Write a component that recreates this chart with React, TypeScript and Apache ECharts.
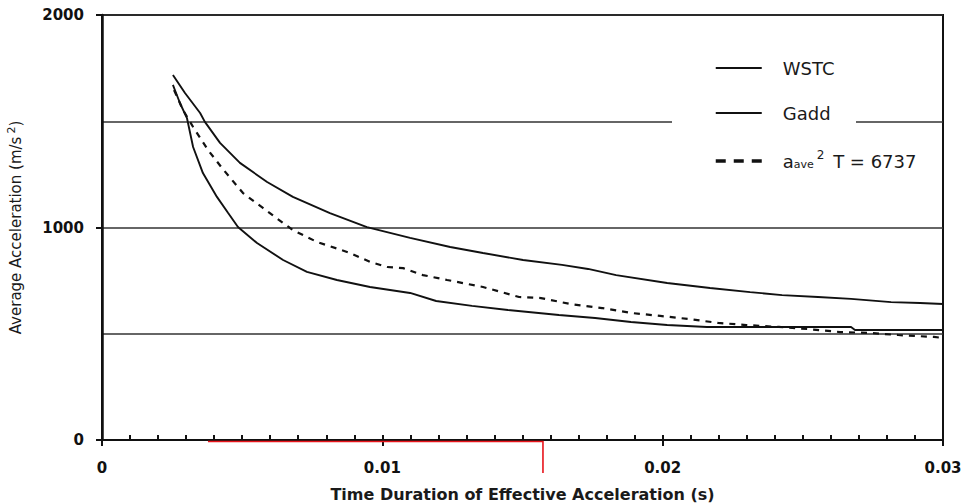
import React, { useEffect, useRef } from "react";
import * as echarts from "echarts";

const xTicks = [0, 0.01, 0.02, 0.03];
const yTicks = [0, 1000, 2000];

const wstcT = [0.00253, 0.00296, 0.0035, 0.00367, 0.00421, 0.00492, 0.00589, 0.00681, 0.00813, 0.00945, 0.01099, 0.01242, 0.01359, 0.01502, 0.01641, 0.01734, 0.01834, 0.02016, 0.02169, 0.02312, 0.02426, 0.02554, 0.02672, 0.02815, 0.02918, 0.03];
const wstcA = [1718, 1633, 1539, 1497, 1398, 1304, 1214, 1144, 1068, 1002, 951, 908, 880, 847, 824, 805, 776, 739, 715, 696, 682, 673, 664, 649, 645, 640];

const gaddT = [0.00253, 0.0026, 0.00278, 0.00303, 0.00325, 0.0036, 0.0041, 0.0045, 0.00485, 0.00553, 0.00646, 0.00731, 0.00838, 0.00956, 0.01099, 0.01192, 0.0132, 0.01448, 0.0163, 0.01759, 0.01887, 0.02016, 0.02158, 0.02351, 0.02672, 0.02686, 0.03];
const gaddA = [1671, 1647, 1586, 1515, 1379, 1256, 1144, 1068, 1002, 927, 847, 791, 753, 720, 692, 654, 631, 612, 588, 574, 555, 541, 532, 532, 532, 518, 518];

const fitT = [0.00257, 0.00289, 0.00325, 0.00378, 0.00428, 0.00503, 0.00574, 0.00646, 0.00681, 0.00767, 0.00885, 0.00956, 0.01017, 0.01074, 0.01145, 0.01231, 0.01359, 0.01488, 0.01566, 0.0167, 0.01784, 0.01887, 0.01991, 0.02094, 0.02198, 0.02298, 0.02415, 0.02519, 0.02633, 0.02736, 0.0284, 0.02968, 0.03];
const fitA = [1647, 1553, 1473, 1365, 1280, 1162, 1092, 1021, 988, 932, 880, 838, 814, 809, 776, 753, 720, 673, 668, 640, 621, 598, 584, 569, 551, 541, 532, 522, 508, 504, 494, 485, 480];

const redT = [0.00378, 0.01573];

const seriesNames = ["WSTC", "Gadd", "aave2T"];

const SANS = "DejaVu Sans, Liberation Sans, sans-serif";

function pairs(t: number[], a: number[]) {
  return t.map((v, i) => [v, a[i]]);
}

export default function App() {
  const ref = useRef<HTMLDivElement>(null);
  useEffect(() => {
    if (!ref.current) return;
    const chart = echarts.init(ref.current, undefined, { renderer: "svg" });
    chart.setOption({
      animation: false,
      backgroundColor: "#fff",
      grid: {
        left: 102,
        right: 23,
        top: 15,
        bottom: 64,
        containLabel: false,
        outerBoundsMode: "none",
        show: true,
        borderColor: "#111",
        borderWidth: 2,
      },
      legend: {
        orient: "vertical",
        left: 714,
        top: 59,
        padding: 0,
        itemWidth: 46,
        itemHeight: 18,
        itemGap: 27,
        itemStyle: { opacity: 0 },
        data: [
          { name: "WSTC" },
          { name: "Gadd" },
          { name: "aave2T", lineStyle: { width: 3.5, type: [10, 8] } },
        ],
        formatter: (name: string) =>
          name === "aave2T" ? "{a|a}{sub|ave}{sup|2}{a| T = 6737}" : "{a|" + name + "}",
        textStyle: {
          fontFamily: SANS,
          color: "#1a1a1a",
          padding: [0, 0, 0, 16],
          rich: {
            a: { fontFamily: SANS, fontSize: 18, color: "#1a1a1a" },
            sub: { fontFamily: SANS, fontSize: 11, color: "#1a1a1a", padding: [7, 0, 0, 0] },
            sup: { fontFamily: SANS, fontSize: 12, color: "#1a1a1a", padding: [0, 3, 12, 3] },
          },
        },
      },
      xAxis: [
        {
          type: "value",
          min: xTicks[0],
          max: xTicks[xTicks.length - 1],
          interval: 0.01,
          position: "bottom",
          axisLine: { show: true, onZero: false, lineStyle: { color: "#111", width: 2 } },
          axisTick: { show: true, inside: false, length: 6, lineStyle: { color: "#111", width: 2 } },
          axisLabel: {
            margin: 20,
            fontFamily: SANS,
            fontWeight: "bold",
            fontSize: 15,
            color: "#111",
            formatter: (v: number) => (v === 0 ? "0" : String(Number(v.toFixed(2)))),
          },
          splitLine: { show: false },
          name: "Time Duration of Effective Acceleration (s)",
          nameLocation: "middle",
          nameGap: 46,
          nameTextStyle: {
            fontFamily: SANS,
            fontWeight: "bold",
            fontSize: 16,
            color: "#1a1a1a",
            verticalAlign: "top",
          },
        },
        {
          type: "value",
          min: 0,
          max: 0.03,
          interval: 0.001,
          position: "bottom",
          axisLine: { show: false },
          axisTick: { show: true, inside: true, length: 5, lineStyle: { color: "#111", width: 2 } },
          axisLabel: { show: false },
          splitLine: { show: false },
        },
      ],
      yAxis: {
        type: "value",
        min: yTicks[0],
        max: yTicks[yTicks.length - 1],
        interval: 1000,
        axisLine: { show: true, onZero: false, lineStyle: { color: "#111", width: 2.5 } },
        axisTick: { show: true, inside: false, length: 6, lineStyle: { color: "#111", width: 2 } },
        minorTick: { show: false, splitNumber: 2 },
        minorSplitLine: { show: true, lineStyle: { color: "#333", width: 1.5 } },
        splitLine: { show: true, lineStyle: { color: "#333", width: 1.5 } },
        axisLabel: {
          margin: 18,
          fontFamily: SANS,
          fontWeight: "bold",
          fontSize: 15,
          color: "#111",
          formatter: (v: number) => String(v),
        },
        name: "Average Acceleration (m/s{sup|2})",
        nameLocation: "middle",
        nameGap: 76,
        nameTextStyle: {
          fontFamily: SANS,
          fontSize: 15,
          color: "#1a1a1a",
          rich: {
            sup: { fontFamily: SANS, fontSize: 11, color: "#1a1a1a", padding: [0, 0, 9, 3] },
          },
        },
      },
      series: [
        {
          name: seriesNames[0],
          type: "line",
          data: pairs(wstcT, wstcA),
          symbol: "none",
          lineStyle: { color: "#111", width: 1.9 },
          itemStyle: { color: "#111" },
          z: 3,
        },
        {
          name: seriesNames[1],
          type: "line",
          data: pairs(gaddT, gaddA),
          symbol: "none",
          lineStyle: { color: "#111", width: 1.9 },
          itemStyle: { color: "#111" },
          z: 3,
        },
        {
          name: seriesNames[2],
          type: "line",
          data: pairs(fitT, fitA),
          symbol: "none",
          lineStyle: { color: "#111", width: 2.2, type: [6, 6] },
          itemStyle: { color: "#111" },
          z: 3,
        },
      ],
    });

    const p1 = chart.convertToPixel({ gridIndex: 0 }, [redT[0], 0]) as number[];
    const p2 = chart.convertToPixel({ gridIndex: 0 }, [redT[1], 0]) as number[];
    chart.setOption({
      graphic: [
        {
          type: "rect",
          shape: { x: 672, y: 116, width: 184, height: 12 },
          style: { fill: "#fff" },
          z: 2,
        },
        {
          type: "polyline",
          shape: {
            points: [
              [p1[0], p1[1] + 1.5],
              [p2[0], p2[1] + 1.5],
              [p2[0], p2[1] + 33],
            ],
          },
          style: { stroke: "#e8141b", lineWidth: 1.6, fill: "none" },
          z: 10,
        },
      ],
    });

    return () => chart.dispose();
  }, []);
  return (
    <div
      ref={ref}
      style={{ position: "fixed", left: 0, top: 0, width: 966, height: 504 }}
    />
  );
}
